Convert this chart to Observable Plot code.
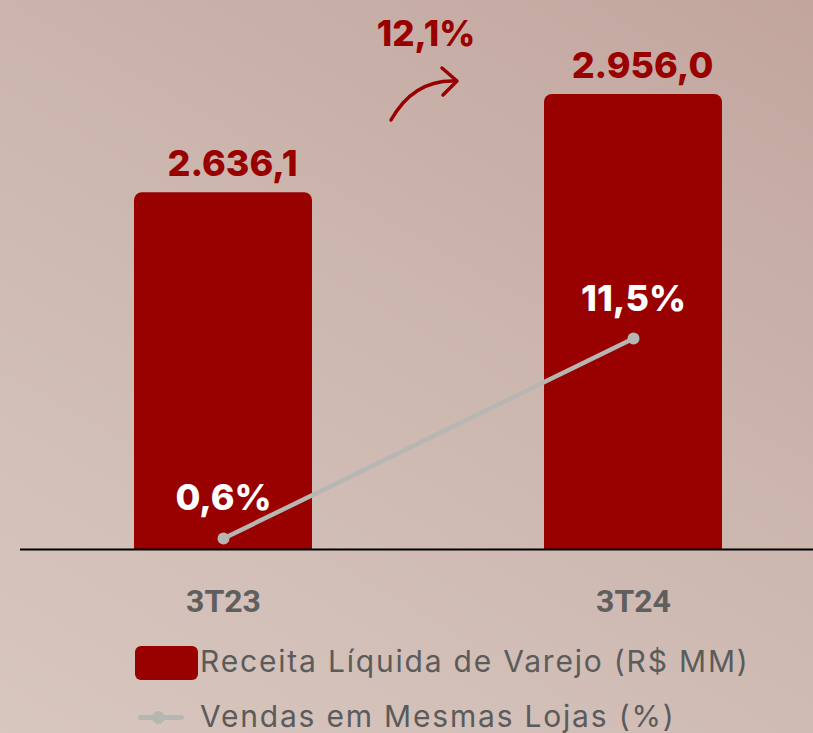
<!DOCTYPE html>
<html>
<head>
<meta charset="utf-8">
<script src="https://cdn.jsdelivr.net/npm/d3@7"></script>
<script src="https://cdn.jsdelivr.net/npm/@observablehq/plot@0.6"></script>
<style>
  html, body { margin: 0; padding: 0; }
  body {
    width: 813px; height: 733px; overflow: hidden;
    background: linear-gradient(30deg, #d8c7bf 0%, #cdb8b0 50%, #c2a69e 100%);
  }
  #chart svg { display: block; background: transparent; overflow: visible; }
  #legend { position: relative; height: 103px; font-family: Inter, "Noto Sans", sans-serif; color: #5b5b5b; }
  .sw-bar { position: absolute; left: 135px; top: 16px; width: 63px; height: 34px; border-radius: 6px; background: #990000; }
  .sw-line { position: absolute; left: 138px; top: 85px; width: 46px; height: 5px; border-radius: 2.5px; background: #b6b6b2; }
  .sw-dot { position: absolute; left: 152px; top: 81px; width: 13px; height: 13px; border-radius: 6.5px; background: #b6b6b2; }
  .lg-text { position: absolute; left: 200px; font-size: 30px; line-height: 34px; white-space: nowrap; letter-spacing: 1.8px; }
</style>
</head>
<body>
<div id="chart"></div>
<div id="legend"></div>
<script>
const categories = ["3T23", "3T24"];
const receita = [2636.1, 2956.0];
const receitaLabels = ["2.636,1", "2.956,0"];
const sss = [0.6, 11.5];
const sssLabels = ["0,6%", "11,5%"];
const growthLabel = "12,1%";
const legendLabels = ["Receita Líquida de Varejo (R$ MM)", "Vendas em Mesmas Lojas (%)"];

const yBase = 1474;   // truncated value axis base
const yTop = 2956;
const pctMax = 24.8;  // secondary axis top for the % line

const pctToY = d3.scaleLinear().domain([0, pctMax]).range([yBase, yTop]);

const data = categories.map((c, i) => ({
  cat: c, value: receita[i], label: receitaLabels[i], pct: sss[i], pctLabel: sssLabels[i]
}));

const red = "#990000";
const gray = "#b6b6b2";

function growthMark(index, scales, values, dims) {
  const x = scales.x, y = scales.y;
  const bw = x.bandwidth ? x.bandwidth() / 2 : 0;
  const c0 = x(categories[0]) + bw, c1 = x(categories[1]) + bw;
  const mid = (c0 + c1) / 2;
  const top = y(receita[1]);
  const g = d3.create("svg:g");
  g.append("text")
    .attr("x", mid - 2).attr("y", top - 48)
    .attr("text-anchor", "middle")
    .attr("font-family", "Inter, sans-serif")
    .attr("font-weight", 800)
    .attr("font-size", 35)
    .attr("fill", red)
    .text(growthLabel);
  const sx = mid - 37, sy = top + 26, ex = mid + 28, ey = top - 13;
  g.append("path")
    .attr("d", `M${sx},${sy} Q${mid - 14},${ey - 2} ${ex},${ey}`)
    .attr("fill", "none").attr("stroke", red).attr("stroke-width", 3.5).attr("stroke-linecap", "round");
  g.append("path")
    .attr("d", `M${ex - 14},${ey - 13} L${ex + 1},${ey} L${ex - 13},${ey + 14}`)
    .attr("fill", "none").attr("stroke", red).attr("stroke-width", 3.5)
    .attr("stroke-linecap", "round").attr("stroke-linejoin", "round");
  return g.node();
}

const chart = Plot.plot({
  width: 813,
  height: 630,
  marginLeft: 20,
  marginRight: 0,
  marginTop: 0,
  marginBottom: 81,
  x: { domain: categories, range: [31.5, 824.5], paddingInner: 0.566, paddingOuter: 0.25, axis: null },
  y: { domain: [yBase, yTop], range: [549, 94], axis: null },
  style: { background: "transparent", overflow: "visible" },
  marks: [
    Plot.barY(data, { x: "cat", y1: yBase, y2: "value", fill: red, rx: 8 }),
    Plot.barY(data, { x: "cat", y1: yBase, y2: d => (yBase + d.value) / 2, fill: red }),
    Plot.ruleY([yBase], { stroke: "#000", strokeWidth: 2 }),
    Plot.line(data, { x: "cat", y: d => pctToY(d.pct), stroke: gray, strokeWidth: 4.5 }),
    Plot.dot(data, { x: "cat", y: d => pctToY(d.pct), r: 6, fill: gray, stroke: "none" }),
    Plot.text(data, { x: "cat", y: "value", text: "label", dx: 9, dy: -17, lineAnchor: "bottom",
      fill: red, fontSize: 36, fontWeight: 800, fontFamily: "Inter, sans-serif" }),
    Plot.text(data, { x: "cat", y: d => pctToY(d.pct), text: "pctLabel", dy: -28, lineAnchor: "bottom",
      fill: "#fff", fontSize: 36, fontWeight: 800, fontFamily: "Inter, sans-serif" }),
    Plot.text(data, { x: "cat", y: yBase, text: "cat", dy: 40, lineAnchor: "top",
      fill: "#5f5f5f", fontSize: 32, fontWeight: "bold", fontFamily: "Roboto, sans-serif" }),
    growthMark
  ]
});
document.getElementById("chart").appendChild(chart);

const legend = document.getElementById("legend");
legend.innerHTML = `
  <div class="sw-bar"></div>
  <div class="lg-text" style="top:14px">${legendLabels[0]}</div>
  <div class="sw-line"></div><div class="sw-dot"></div>
  <div class="lg-text" style="top:69px">${legendLabels[1]}</div>
`;
</script>
</body>
</html>
